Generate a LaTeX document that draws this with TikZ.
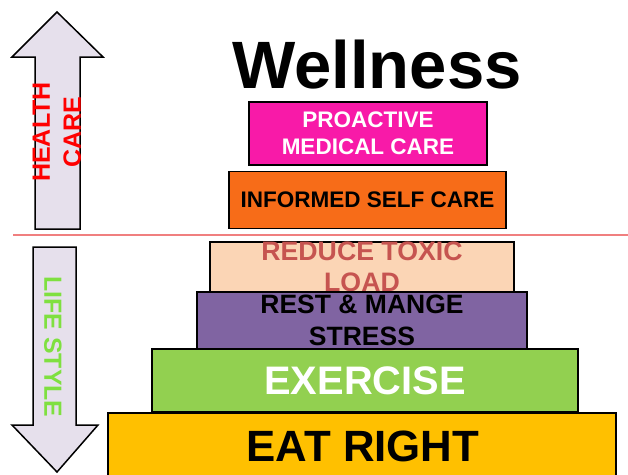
\documentclass[tikz,border=0pt]{standalone}
\usepackage{fontspec}
\setmainfont{Liberation Sans}
\definecolor{arrowfill}{HTML}{E6E0EC}
\definecolor{redline}{HTML}{F07F7F}
\definecolor{hcred}{HTML}{FF0000}
\definecolor{lsgreen}{HTML}{7FE040}
\definecolor{magentabox}{HTML}{F81AA8}
\definecolor{orangebox}{HTML}{F76C18}
\definecolor{peachbox}{HTML}{FBD5B5}
\definecolor{peachtext}{HTML}{C65450}
\definecolor{purplebox}{HTML}{8064A2}
\definecolor{greenbox}{HTML}{92D050}
\definecolor{yellowbox}{HTML}{FFC000}
\begin{document}
\begin{tikzpicture}[x=1pt,y=-1pt,
  tier/.style={draw=black, line width=1.5pt, inner sep=0pt, align=center, font=\bfseries},
  bigarrow/.style={draw=black, line width=1.5pt, fill=arrowfill, line join=miter}]
\useasboundingbox (0,0) rectangle (628,474);
% arrows
\draw[bigarrow] (57,12) -- (103,57) -- (80,57) -- (80,229) -- (35,229) -- (35,57) -- (12,57) -- cycle;
\draw[bigarrow] (33,247) -- (76,247) -- (76,425) -- (98,425) -- (57,472) -- (12,425) -- (33,425) -- cycle;
\node[rotate=90, align=center, text=hcred, font=\bfseries\fontsize{25}{31}\selectfont, inner sep=0pt] (hc) at (57,132) {HEALTH\\CARE};
\node[rotate=-90, text=lsgreen, font=\bfseries\fontsize{24.8}{30}\selectfont, inner sep=0pt] (ls) at (53,347) {LIFE STYLE};
% divider
\coordinate (l1) at (13,235);
\coordinate (l2) at (628,235);
\draw[redline, line width=1.2pt] (l1) -- (l2);
% title
\node[anchor=base, font=\bfseries\fontsize{67}{70}\selectfont, inner sep=0pt] (title) at (377,88) {Wellness};
% tiers
\node[tier, fill=magentabox, text=white, minimum width=238pt, minimum height=63pt, font=\bfseries\fontsize{22.5}{27}\selectfont] (pmc) at (368,133.5) {PROACTIVE\\MEDICAL CARE};
\node[tier, fill=orangebox, text=black, minimum width=277pt, minimum height=57pt, font=\bfseries\fontsize{22.5}{27}\selectfont] (isc) at (367.5,200) {INFORMED SELF CARE};
\node[tier, fill=peachbox, text=peachtext, minimum width=304pt, minimum height=50pt, font=\bfseries\fontsize{26.7}{31}\selectfont] (rtl) at (362,267) {REDUCE TOXIC\\LOAD};
\node[tier, fill=purplebox, text=black, minimum width=330pt, minimum height=57pt, font=\bfseries\fontsize{26.5}{32}\selectfont] (rms) at (362,320.5) {REST \& MANGE\\STRESS};
\node[tier, fill=greenbox, text=white, minimum width=426pt, minimum height=63pt, font=\bfseries\fontsize{39.8}{44}\selectfont] (ex) at (365,380.5) {EXERCISE};
\node[tier, fill=yellowbox, minimum width=508pt, minimum height=70pt, font=\bfseries\fontsize{43.8}{48}\selectfont] (eat) at (362,448) {};
\node[font=\bfseries\fontsize{43.8}{48}\selectfont, inner sep=0pt] (eatt) at (363,446) {EAT RIGHT};
\end{tikzpicture}
\end{document}
